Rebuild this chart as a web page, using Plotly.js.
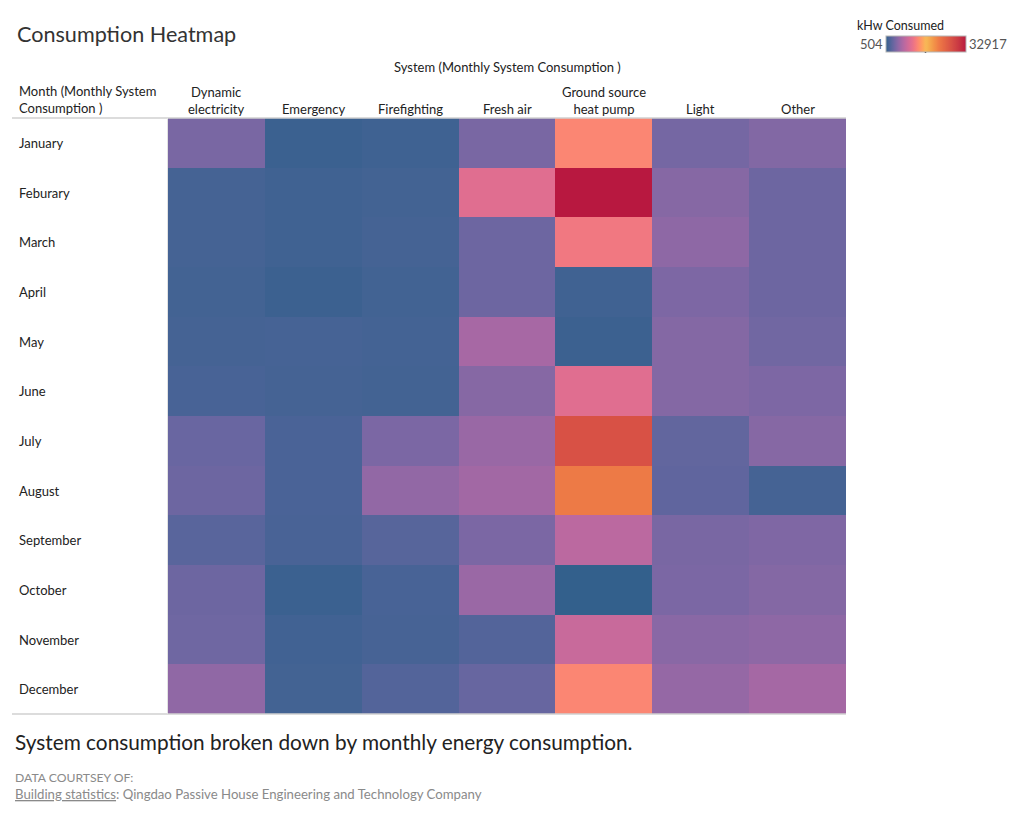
<!DOCTYPE html>
<html>
<head>
<meta charset="utf-8">
<script src="https://cdn.plot.ly/plotly-3.0.1.min.js"></script>
<style>
  html, body { margin: 0; padding: 0; background: #ffffff; }
  #chart { width: 1024px; height: 819px; }
</style>
</head>
<body>
<div id="chart"></div>
<script>
// Months (rows) and systems (columns)
const months = ["January", "Feburary", "March", "April", "May", "June",
                "July", "August", "September", "October", "November", "December"];
const systems = ["Dynamic electricity", "Emergency", "Firefighting", "Fresh air",
                 "Ground source heat pump", "Light", "Other"];
const systemLabels = ["Dynamic<br>electricity", "Emergency", "Firefighting", "Fresh air",
                      "Ground source<br>heat pump", "Light", "Other"];

// Monthly consumption per system, kHw (January .. December)
const dynamicElectricity = [4300, 1500, 1500, 1400, 1500, 1700, 3500, 3700, 2650, 3700, 3800, 5500];
const emergency          = [ 950, 1250, 1250, 1000, 1600, 1500, 1800, 1800, 1750,  950, 1300, 1400];
const firefighting       = [1200, 1400, 1500, 1350, 1450, 1400, 4400, 5600, 2550, 1700, 1650, 2300];
const freshAir           = [4300, 10600, 3700, 3700, 6800, 5000, 6000, 6500, 4400, 6100, 2300, 3400];
const groundSourceHP     = [13300, 32917, 12100, 1250, 1000, 10600, 27000, 22000, 8000, 504, 8900, 13300];
const light              = [4100, 5000, 5400, 4500, 4900, 4900, 3100, 3000, 4300, 4400, 5200, 5800];
const other              = [4800, 3700, 3700, 3700, 3900, 4500, 5000, 1500, 4600, 4900, 5400, 6700];

const seriesBySystem = [dynamicElectricity, emergency, firefighting, freshAir,
                        groundSourceHP, light, other];

// Sunset-sunrise diverging palette
const paletteColors = ["#33608c", "#9768a5", "#e7718a", "#f6ba57", "#ed7846", "#d54c45", "#b81840"];

// --- colour helpers: interpolate palette stops in CIE LCh ---
function hexToRgb(h) {
  const n = parseInt(h.slice(1), 16);
  return [(n >> 16) & 255, (n >> 8) & 255, n & 255];
}
function srgbToLin(c) { c /= 255; return c <= 0.04045 ? c / 12.92 : Math.pow((c + 0.055) / 1.055, 2.4); }
function linToSrgb(c) {
  const v = c <= 0.0031308 ? 12.92 * c : 1.055 * Math.pow(c, 1 / 2.4) - 0.055;
  return Math.max(0, Math.min(255, Math.round(v * 255)));
}
const WX = 0.95047, WY = 1.0, WZ = 1.08883;
function fLab(t) { return t > 216 / 24389 ? Math.cbrt(t) : (24389 / 27 * t + 16) / 116; }
function fInv(t) { const t3 = t * t * t; return t3 > 216 / 24389 ? t3 : (116 * t - 16) / (24389 / 27); }
function rgbToLch(rgb) {
  const [r, g, b] = rgb.map(srgbToLin);
  const X = 0.4124 * r + 0.3576 * g + 0.1805 * b;
  const Y = 0.2126 * r + 0.7152 * g + 0.0722 * b;
  const Z = 0.0193 * r + 0.1192 * g + 0.9505 * b;
  const fx = fLab(X / WX), fy = fLab(Y / WY), fz = fLab(Z / WZ);
  const L = 116 * fy - 16, A = 500 * (fx - fy), B2 = 200 * (fy - fz);
  return [L, Math.hypot(A, B2), Math.atan2(B2, A)];
}
function lchToRgb([L, C, H]) {
  const A = C * Math.cos(H), B2 = C * Math.sin(H);
  const fy = (L + 16) / 116, fx = fy + A / 500, fz = fy - B2 / 200;
  const X = WX * fInv(fx), Y = WY * fInv(fy), Z = WZ * fInv(fz);
  const r = 3.2406 * X - 1.5372 * Y - 0.4986 * Z;
  const g = -0.9689 * X + 1.8758 * Y + 0.0415 * Z;
  const b = 0.0557 * X - 0.2040 * Y + 1.0570 * Z;
  return [linToSrgb(r), linToSrgb(g), linToSrgb(b)];
}
function mixLch(c1, c2, t) {
  let dh = c2[2] - c1[2];
  if (dh > Math.PI) dh -= 2 * Math.PI;
  if (dh < -Math.PI) dh += 2 * Math.PI;
  return [c1[0] + (c2[0] - c1[0]) * t, c1[1] + (c2[1] - c1[1]) * t, c1[2] + dh * t];
}
const paletteLch = paletteColors.map(c => rgbToLch(hexToRgb(c)));
const steps = 16;
const colorscale = [];
for (let i = 0; i < paletteLch.length - 1; i++) {
  for (let k = 0; k < steps; k++) {
    if (i > 0 && k === 0) continue;
    const t = k / steps;
    const rgb = lchToRgb(mixLch(paletteLch[i], paletteLch[i + 1], t));
    colorscale.push([(i + t) / (paletteLch.length - 1), `rgb(${rgb.join(",")})`]);
  }
}
colorscale.push([1, paletteColors[paletteColors.length - 1]]);
colorscale[0] = [0, paletteColors[0]];

// Rows = months, columns = systems
const z = months.map((m, r) => seriesBySystem.map(s => s[r]));
const allValues = seriesBySystem.flat();
const zMin = Math.min(...allValues);
const zMax = Math.max(...allValues);

// Plot-area geometry (pixels)
const W = 1024, H = 819;
const L = 168, R = 846, T = 118, B = 714;
const pw = R - L, ph = B - T;
const px = x => (x - L) / pw;          // pixel x -> paper x
const py = y => (B - y) / ph;          // pixel y -> paper y

const font = "Lato, 'Noto Sans', sans-serif";
const dark = "#333333";

const trace = {
  type: "heatmap",
  x: systems,
  y: months,
  z: z,
  zmin: zMin,
  zmax: zMax,
  colorscale: colorscale,
  xgap: 0, ygap: 0,
  hovertemplate: "%{y}<br>%{x}: %{z}<extra></extra>",
  colorbar: {
    orientation: "h",
    lenmode: "pixels", len: 80,
    thickness: 16, thicknessmode: "pixels",
    x: px(885.5), xanchor: "left",
    y: py(36), yanchor: "top",
    xpad: 0, ypad: 0,
    outlinecolor: "#b5b5b5", outlinewidth: 1,
    showticklabels: false, ticks: ""
  }
};

const annotations = [];

// Title
annotations.push({
  xref: "paper", yref: "paper", x: px(15), y: py(34),
  xanchor: "left", yanchor: "middle", showarrow: false,
  text: "Consumption Heatmap", font: { family: font, size: 21.6, color: dark }
});

// Column group header
annotations.push({
  xref: "paper", yref: "paper", x: 0.5, y: py(67),
  xanchor: "center", yanchor: "middle", showarrow: false,
  text: "System (Monthly System Consumption )",
  font: { family: font, size: 13, color: "#222" }
});

// Row header
annotations.push({
  xref: "paper", yref: "paper", x: px(17), y: py(118),
  xanchor: "left", yanchor: "bottom", showarrow: false, align: "left",
  text: "Month (Monthly System<br>Consumption )",
  font: { family: font, size: 13, color: "#222" }
});

// Column headers
systems.forEach((s, i) => {
  annotations.push({
    xref: "x", yref: "paper", x: s, y: py(119),
    xanchor: "center", yanchor: "bottom", showarrow: false, align: "center",
    text: systemLabels[i],
    font: { family: font, size: 13, color: "#222" }
  });
});

// Row labels
months.forEach(m => {
  annotations.push({
    xref: "paper", yref: "y", x: px(17), y: m,
    xanchor: "left", yanchor: "middle", showarrow: false,
    text: m, font: { family: font, size: 13, color: "#222" }
  });
});

// Legend title and range labels
annotations.push({
  xref: "paper", yref: "paper", x: px(855), y: py(25),
  xanchor: "left", yanchor: "middle", showarrow: false,
  text: "kHw Consumed", font: { family: font, size: 12.5, color: "#222" }
});
annotations.push({
  xref: "paper", yref: "paper", x: px(885), y: py(44),
  xanchor: "right", yanchor: "middle", showarrow: false,
  text: String(zMin), font: { family: font, size: 13, color: "#555" }
});
annotations.push({
  xref: "paper", yref: "paper", x: px(967), y: py(44),
  xanchor: "left", yanchor: "middle", showarrow: false,
  text: String(zMax), font: { family: font, size: 13, color: "#555" }
});

// Caption and source
annotations.push({
  xref: "paper", yref: "paper", x: px(13), y: py(741),
  xanchor: "left", yanchor: "middle", showarrow: false,
  text: "System consumption broken down by monthly energy consumption.",
  font: { family: font, size: 20.8, color: "#222" }
});
annotations.push({
  xref: "paper", yref: "paper", x: px(13), y: py(777),
  xanchor: "left", yanchor: "middle", showarrow: false,
  text: "DATA COURTSEY OF:",
  font: { family: font, size: 12.2, color: "#8a8a8a" }
});
annotations.push({
  xref: "paper", yref: "paper", x: px(13), y: py(794),
  xanchor: "left", yanchor: "middle", showarrow: false,
  text: "<span style='text-decoration:underline'>Building statistics</span>: Qingdao Passive House Engineering and Technology Company",
  font: { family: font, size: 13.2, color: "#8a8a8a" }
});

const shapes = [
  // header rule and bottom rule
  { type: "line", xref: "paper", yref: "paper", x0: px(12), x1: 1, y0: 1, y1: 1,
    line: { color: "#d0d0d0", width: 1.5 } },
  { type: "line", xref: "paper", yref: "paper", x0: px(12), x1: 1, y0: 0, y1: 0,
    line: { color: "#d0d0d0", width: 1.5 } },
  // divider between row labels and cells
  { type: "line", xref: "paper", yref: "paper", x0: px(167.5), x1: px(167.5), y0: 0, y1: 1,
    line: { color: "#e2e2e2", width: 1 } },
  // midpoint marker on the colour legend
  { type: "line", xref: "paper", yref: "paper", x0: px(925.5), x1: px(925.5), y0: py(48), y1: py(53),
    line: { color: "#222", width: 1.5 } }
];

const layout = {
  width: W, height: H,
  margin: { l: L, r: W - R, t: T, b: H - B, pad: 0 },
  paper_bgcolor: "#ffffff",
  plot_bgcolor: "#ffffff",
  font: { family: font, color: dark },
  xaxis: { type: "category", showticklabels: false, ticks: "", showgrid: false,
           zeroline: false, showline: false, fixedrange: true },
  yaxis: { type: "category", autorange: "reversed", showticklabels: false, ticks: "",
           showgrid: false, zeroline: false, showline: false, fixedrange: true },
  annotations: annotations,
  shapes: shapes,
  showlegend: false
};

Plotly.newPlot("chart", [trace], layout, { displayModeBar: false });
</script>
</body>
</html>
